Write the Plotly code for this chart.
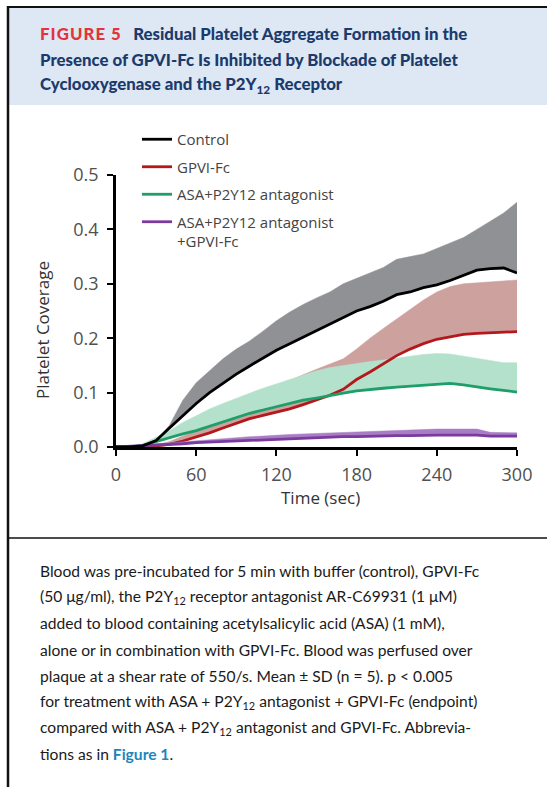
import plotly.graph_objects as go

# ---------------- data ----------------
time_s = [0, 10, 20, 30, 40, 50, 60, 70, 80, 90, 100, 110, 120, 130, 140, 150,
          160, 170, 180, 190, 200, 210, 220, 230, 240, 250, 260, 270, 280, 290, 300]

control_mean = [0, 0, 0.002, 0.012, 0.035, 0.058, 0.08, 0.1, 0.117, 0.134, 0.149, 0.163,
                0.178, 0.19, 0.202, 0.215, 0.226, 0.238, 0.25, 0.258, 0.268, 0.28, 0.285,
                0.293, 0.298, 0.306, 0.315, 0.325, 0.328, 0.329, 0.32]
control_upper = [0, 0, 0.002, 0.012, 0.04, 0.086, 0.118, 0.14, 0.162, 0.18, 0.195, 0.213,
                 0.232, 0.248, 0.262, 0.274, 0.285, 0.3, 0.31, 0.32, 0.33, 0.345, 0.35,
                 0.355, 0.365, 0.375, 0.385, 0.4, 0.415, 0.43, 0.45]

gpvi_mean = [0, 0, 0, 0.002, 0.005, 0.011, 0.018, 0.026, 0.035, 0.043, 0.052, 0.058,
             0.064, 0.07, 0.078, 0.086, 0.095, 0.106, 0.124, 0.138, 0.153, 0.168, 0.18,
             0.19, 0.198, 0.203, 0.207, 0.209, 0.21, 0.212, 0.212]
gpvi_upper = [0, 0, 0, 0.003, 0.01, 0.02, 0.03, 0.042, 0.056, 0.07, 0.085, 0.098,
              0.11, 0.122, 0.133, 0.143, 0.152, 0.162, 0.18, 0.2, 0.218, 0.235, 0.252,
              0.27, 0.285, 0.295, 0.3, 0.302, 0.303, 0.305, 0.307]

asa_mean = [0, 0, 0.003, 0.01, 0.018, 0.024, 0.03, 0.038, 0.046, 0.054, 0.062, 0.068,
            0.074, 0.08, 0.086, 0.09, 0.095, 0.099, 0.103, 0.106, 0.108, 0.11, 0.112,
            0.114, 0.116, 0.117, 0.114, 0.11, 0.107, 0.104, 0.101]
asa_upper = [0, 0, 0.006, 0.018, 0.03, 0.045, 0.058, 0.07, 0.08, 0.09, 0.099, 0.108,
             0.116, 0.125, 0.133, 0.14, 0.146, 0.15, 0.154, 0.157, 0.16, 0.164, 0.167,
             0.17, 0.172, 0.171, 0.167, 0.163, 0.158, 0.155, 0.155]

combo_mean = [0, 0.001, 0.002, 0.003, 0.005, 0.006, 0.008, 0.009, 0.01, 0.011, 0.012,
              0.013, 0.015, 0.016, 0.017, 0.017, 0.018, 0.019, 0.019, 0.02, 0.02, 0.021,
              0.021, 0.022, 0.022, 0.022, 0.022, 0.022, 0.02, 0.02, 0.02]
combo_upper = [0, 0.002, 0.004, 0.005, 0.007, 0.009, 0.012, 0.014, 0.016, 0.018, 0.019,
               0.02, 0.022, 0.023, 0.024, 0.025, 0.026, 0.027, 0.028, 0.029, 0.03, 0.03,
               0.031, 0.032, 0.033, 0.033, 0.033, 0.033, 0.027, 0.027, 0.026]

series_names = ["Control", "GPVI-Fc", "ASA+P2Y12 antagonist", "ASA+P2Y12 antagonist<br>+GPVI-Fc"]
x_ticks = [0, 60, 120, 180, 240, 300]
y_ticks = [0.0, 0.1, 0.2, 0.3, 0.4, 0.5]
y_tick_labels = ["0.0", "0.1", "0.2", "0.3", "0.4", "0.5"]

# ---------------- style ----------------
W, H = 547, 787
def py(v):  # pixel-from-top -> paper y
    return (H - v) / H
def px(v):
    return v / W

LINE_COLORS = ["#000000", "#B3191C", "#1E9E68", "#7A3A9E"]
BAND_COLORS = ["#8F9195", "#CDA19D", "#B4E1CC", "#A97DC4"]

fig = go.Figure()

def band(x, lo, hi, color):
    fig.add_trace(go.Scatter(x=x, y=lo, mode="lines", line=dict(width=0, color=color),
                             showlegend=False, hoverinfo="skip"))
    fig.add_trace(go.Scatter(x=x, y=hi, mode="lines", line=dict(width=0.5, color=color),
                             fill="tonexty", fillcolor=color, showlegend=False, hoverinfo="skip"))

def line(x, y, color, name, rank):
    fig.add_trace(go.Scatter(x=x, y=y, mode="lines", line=dict(width=2.8, color=color),
                             name=name, legendgroup=name, legendrank=rank))

# drawing order: pink band, green band, red line, green line, purple, gray, black
band(time_s, gpvi_mean, gpvi_upper, BAND_COLORS[1])
band(time_s, asa_mean, asa_upper, BAND_COLORS[2])
line(time_s, gpvi_mean, LINE_COLORS[1], series_names[1], 2)
line(time_s, asa_mean, LINE_COLORS[2], series_names[2], 3)
band(time_s, combo_mean, combo_upper, BAND_COLORS[3])
line(time_s, combo_mean, LINE_COLORS[3], series_names[3], 4)
band(time_s, control_mean, control_upper, BAND_COLORS[0])
line(time_s, control_mean, LINE_COLORS[0], series_names[0], 1)

tick_font = dict(family="Open Sans", size=18, color="#505050")
fig.update_xaxes(domain=[px(116), px(517)], range=[0, 300], tickvals=x_ticks,
                 showline=True, linecolor="#000", linewidth=2.5, ticks="outside",
                 ticklen=6, tickwidth=2.2, tickcolor="#000", tickfont=tick_font,
                 showgrid=False, zeroline=False, ticklabelstandoff=4, fixedrange=True)
fig.update_yaxes(domain=[py(447), py(175)], range=[0, 0.5], tickvals=y_ticks,
                 ticktext=y_tick_labels, showline=True, linecolor="#000", linewidth=2.5,
                 ticks="outside", ticklen=6, tickwidth=2.2, tickcolor="#000",
                 tickfont=tick_font, showgrid=False, zeroline=False, ticklabelstandoff=5,
                 fixedrange=True)

shapes = [
    # header background
    dict(type="rect", xref="paper", yref="paper", x0=px(8), x1=1.01, y0=py(105), y1=py(8),
         fillcolor="#DDE8F4", line=dict(width=0), layer="below"),
    # outer border (top and left)
    dict(type="line", xref="paper", yref="paper", x0=px(7), x1=1.01, y0=py(7), y1=py(7),
         line=dict(color="#111", width=2)),
    dict(type="line", xref="paper", yref="paper", x0=px(8), x1=px(8), y0=py(6), y1=-0.01,
         line=dict(color="#111", width=2.5)),
    # separator between chart and caption
    dict(type="line", xref="paper", yref="paper", x0=px(8), x1=1.01, y0=py(538), y1=py(538),
         line=dict(color="#111", width=1.5)),
]

annotations = []
title_font = dict(family="Lato", size=16.8, color="#1C3A6B", weight=900)
title_lines = [
    "<span style='color:#E3343B'>F\u200aI\u200aG\u200aU\u200aR\u200aE\u2009 5</span>\u2002 Residual Platelet Aggregate Formation in the",
    "Presence of GPVI-Fc Is Inhibited by Blockade of Platelet",
    "Cyclooxygenase and the P2Y<sub>12</sub> Receptor",
]
for i, t in enumerate(title_lines):
    annotations.append(dict(text=t, xref="paper", yref="paper", x=px(38), y=py(34 + 25.5 * i),
                            xanchor="left", yanchor="middle", showarrow=False, font=title_font))

caption_font = dict(family="Lato", size=15.6, color="#1a1a1a")
caption_lines = [
    "Blood was pre-incubated for 5 min with buffer (control), GPVI-Fc",
    "(50 \u03bcg/ml), the P2Y<sub>12</sub> receptor antagonist AR-C69931 (1 \u03bcM)",
    "added to blood containing acetylsalicylic acid (ASA) (1 mM),",
    "alone or in combination with GPVI-Fc. Blood was perfused over",
    "plaque at a shear rate of 550/s. Mean \u00b1 SD (n = 5). p &lt; 0.005",
    "for treatment with ASA + P2Y<sub>12</sub> antagonist + GPVI-Fc (endpoint)",
    "compared with ASA + P2Y<sub>12</sub> antagonist and GPVI-Fc. Abbrevia-",
    "tions as in <b><span style='color:#1B86BE'>Figure 1</span></b>.",
]
for i, t in enumerate(caption_lines):
    annotations.append(dict(text=t, xref="paper", yref="paper", x=px(38), y=py(571 + 26.2 * i),
                            xanchor="left", yanchor="middle", showarrow=False, font=caption_font))

# axis titles
annotations.append(dict(text="Time (sec)", xref="paper", yref="paper", x=px(320), y=py(497),
                        xanchor="center", yanchor="middle", showarrow=False,
                        font=dict(family="Open Sans", size=17, color="#333", weight=500)))
annotations.append(dict(text="Platelet Coverage", xref="paper", yref="paper", x=px(42), y=py(330),
                        xanchor="center", yanchor="middle", showarrow=False, textangle=-90,
                        font=dict(family="Open Sans", size=17, color="#333", weight=500)))

fig.update_layout(
    width=W, height=H, autosize=False,
    margin=dict(l=0, r=0, t=0, b=0, autoexpand=False),
    paper_bgcolor="white", plot_bgcolor="white",
    shapes=shapes, annotations=annotations,
    showlegend=True,
    legend=dict(x=px(137), y=py(123), xanchor="left", yanchor="top",
                bgcolor="rgba(0,0,0,0)", borderwidth=0, traceorder="grouped",
                tracegroupgap=5, valign="top",
                font=dict(family="Open Sans", size=15, color="#444")),
)

post = ("document.body.style.margin='0';document.body.style.padding='0';"
        "document.documentElement.style.overflow='hidden';document.body.style.overflow='hidden';")
fig.write_html("out.html", post_script=post, config={"displayModeBar": False})
